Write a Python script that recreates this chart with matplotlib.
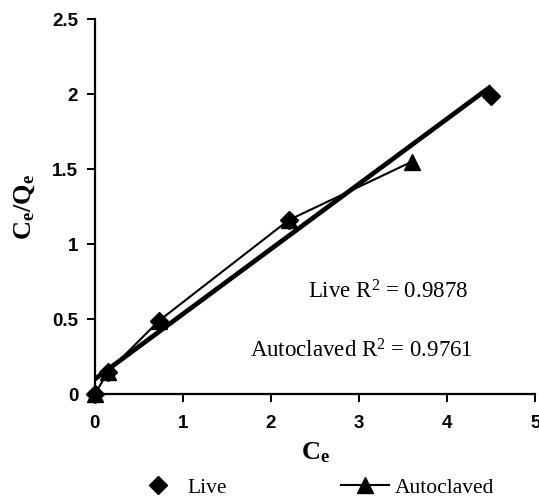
import numpy as np
import matplotlib
matplotlib.use("Agg")
import matplotlib.pyplot as plt

plt.rcParams['mathtext.fontset'] = 'custom'
plt.rcParams['mathtext.rm'] = 'Liberation Serif'
plt.rcParams['mathtext.bf'] = 'Liberation Serif:bold'
plt.rcParams['mathtext.it'] = 'Liberation Serif:italic'

live_x = [0, 0.15, 0.73, 2.2, 4.5]
live_y = [0, 0.15, 0.49, 1.16, 1.99]
auto_x = [0, 0.15, 0.73, 2.2, 3.6]
auto_y = [0, 0.15, 0.49, 1.16, 1.55]
live_r2 = 0.9878
auto_r2 = 0.9761
x_ticks = [0, 1, 2, 3, 4, 5]
y_ticks = [0, 0.5, 1, 1.5, 2, 2.5]
y_tick_labels = ['0', '0.5', '1', '1.5', '2', '2.5']

fig = plt.figure(figsize=(5.39, 5.04), dpi=100)
ax = fig.add_axes([0.176, 0.218, 0.817, 0.744])

# linear trend line (Live)
m, b = np.polyfit(live_x, live_y, 1)
xx = np.array([0, max(live_x)])
ax.plot(xx, m * xx + b, color='black', lw=3.4, solid_capstyle='butt', zorder=2)

ax.plot(auto_x, auto_y, color='black', lw=1.5, marker='^', ms=11,
        label='Autoclaved', clip_on=False, zorder=3)
ax.plot(live_x, live_y, ls='none', color='black', marker='D', ms=9,
        label='Live', clip_on=False, zorder=4)

ax.set_xlim(0, 5)
ax.set_ylim(0, 2.5)
ax.set_xticks(x_ticks)
ax.set_yticks(y_ticks)
ax.set_yticklabels(y_tick_labels)
for lbl in ax.get_xticklabels() + ax.get_yticklabels():
    lbl.set_fontfamily('Liberation Sans')
    lbl.set_fontweight('bold')
    lbl.set_fontsize(13.5)
ax.tick_params(direction='out', length=6, width=1.4)
ax.tick_params(axis='x', pad=9)
ax.tick_params(axis='y', pad=6)
for s in ['top', 'right']:
    ax.spines[s].set_visible(False)
for s in ['left', 'bottom']:
    ax.spines[s].set_linewidth(1.6)

ax.set_xlabel(r'$\mathbf{C_e}$', fontsize=19, labelpad=5)
ax.set_ylabel(r'$\mathbf{C_e/Q_e}$', fontsize=19, labelpad=11)

ax.text(3.33, 0.68, 'Live R$^2$ = %.4f' % live_r2, fontfamily='Liberation Serif',
        fontsize=16.5, ha='center', va='center')
ax.text(3.03, 0.29, 'Autoclaved R$^2$ = %.4f' % auto_r2, fontfamily='Liberation Serif',
        fontsize=16.5, ha='center', va='center')

h, l = ax.get_legend_handles_labels()
fig.legend([h[1], h[0]], [l[1], l[0]], loc='center', bbox_to_anchor=(0.583, 0.032),
           ncol=2, frameon=False, prop={'family': 'Liberation Serif', 'size': 15.5},
           columnspacing=5.3, handlelength=2.2, handletextpad=0.3)

fig.savefig('out.png', dpi=100)
